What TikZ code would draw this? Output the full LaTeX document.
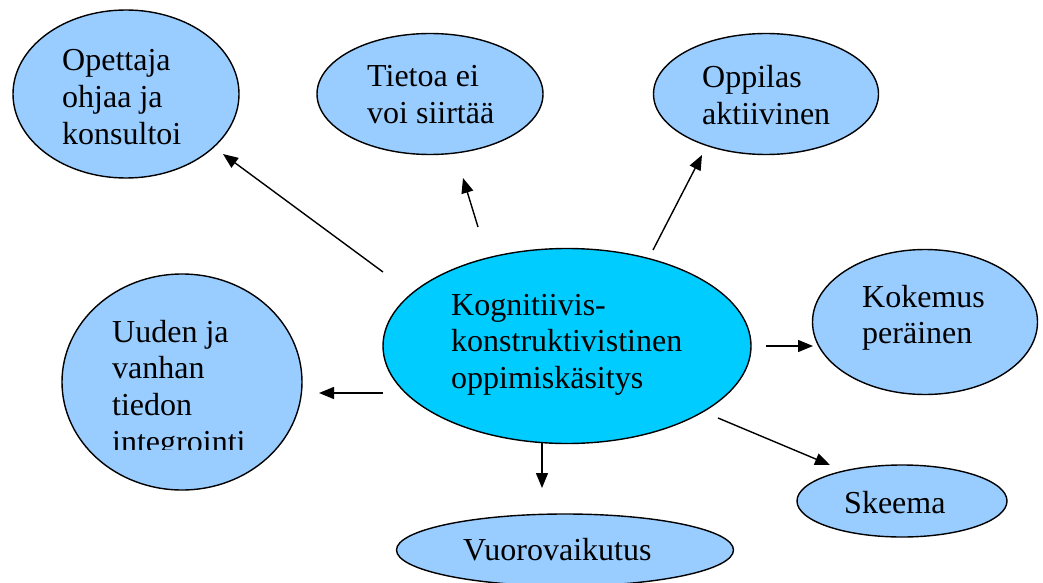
\documentclass[tikz,border=0pt]{standalone}
\usepackage{fontspec}
\setmainfont{Liberation Serif}
\usetikzlibrary{shapes.geometric,arrows.meta}
\definecolor{bubblefill}{RGB}{153,204,255}
\definecolor{corefill}{RGB}{0,204,255}
\tikzset{
  bubble/.style={ellipse, draw=black, line width=1.4pt, fill=bubblefill, inner sep=0pt},
  core/.style={bubble, fill=corefill},
  txt/.style={anchor=base west, inner sep=0pt, font=\fontsize{32}{36.8}\selectfont},
  conn/.style={line width=1.4pt, -{Triangle[length=15pt,width=12pt]}}
}
\newcommand{\lines}[1]{\begin{tabular}[t]{@{}l@{}}#1\end{tabular}}
\begin{document}
\begin{tikzpicture}[x=1pt,y=-1pt]
\useasboundingbox (0,0) rectangle (1043,583);
\fill[white] (0,0) rectangle (1043,583);
% bubbles
\node[bubble, minimum width=226pt, minimum height=168pt] (opettaja) at (126,94) {};
\node[bubble, minimum width=226pt, minimum height=121pt] (tietoa) at (430,94) {};
\node[bubble, minimum width=225pt, minimum height=121pt] (oppilas) at (766,94) {};
\node[bubble, minimum width=225pt, minimum height=145pt] (kokemus) at (925,322) {};
\node[bubble, minimum width=240pt, minimum height=216pt] (uuden) at (182,382) {};
\node[bubble, minimum width=210pt, minimum height=72pt] (skeema) at (902,501) {};
\node[bubble, minimum width=337pt, minimum height=72pt] (vuoro) at (565,550) {};
\node[core, minimum width=368pt, minimum height=195pt] (core) at (567,346) {};
% texts
\node[txt] (opettajaT) at (62,71) {\lines{Opettaja\\ohjaa ja\\konsultoi}};
\node[txt] (tietoaT) at (367,87) {\lines{Tietoa ei\\voi siirtää}};
\node[txt] (oppilasT) at (702,88) {\lines{Oppilas\\aktiivinen}};
\node[txt] (kokemusT) at (862,307) {\lines{Kokemus\\peräinen}};
\begin{scope}
\clip (90,290) rectangle (300,449);
\node[txt] (uudenT) at (112,342) {\lines{Uuden ja\\vanhan\\tiedon\\integrointi}};
\end{scope}
\node[txt] (skeemaT) at (844,513) {Skeema};
\node[txt] (vuoroT) at (463,560) {Vuorovaikutus};
\node[txt] (coreT) at (451,315) {\lines{Kognitiivis-\\konstruktivistinen\\oppimiskäsitys}};
% connector ends
\coordinate (s1) at (383,272); \coordinate (e1) at (223,154);
\coordinate (s2) at (478,227); \coordinate (e2) at (463,178);
\coordinate (s3) at (653,250); \coordinate (e3) at (702,155);
\coordinate (s4) at (766,346); \coordinate (e4) at (813,346);
\coordinate (s5) at (383,393); \coordinate (e5) at (319,393);
\coordinate (s6) at (542,443); \coordinate (e6) at (542,488);
\coordinate (s7) at (718,418); \coordinate (e7) at (830,465);
\draw[conn] (s1) -- (e1);
\draw[conn] (s2) -- (e2);
\draw[conn] (s3) -- (e3);
\draw[conn] (s4) -- (e4);
\draw[conn] (s5) -- (e5);
\draw[conn] (s6) -- (e6);
\draw[conn] (s7) -- (e7);
\end{tikzpicture}
\end{document}
